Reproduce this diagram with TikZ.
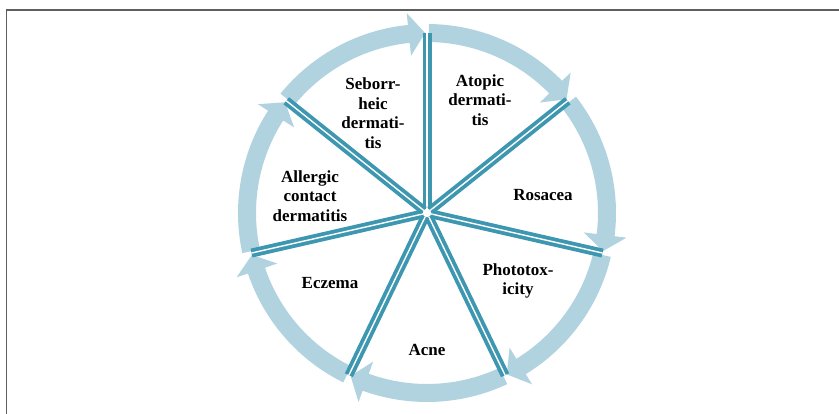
\documentclass[tikz,border=0pt]{standalone}
\usepackage{fontspec}
\setmainfont{Liberation Serif}
\definecolor{ringblue}{RGB}{176,211,223}
\definecolor{spokecol}{RGB}{62,151,176}
\definecolor{framegray}{RGB}{95,95,95}
\begin{document}
\begin{tikzpicture}[x=1pt,y=1pt,
  arrowseg/.style={fill=ringblue, draw=none},
  spokeline/.style={draw=spokecol, line width=3.8pt, double=white, double distance=1.4pt},
  lbl/.style={font=\fontsize{17}{19.5}\selectfont\bfseries, align=center, inner sep=0pt}]
\useasboundingbox (0,0) rectangle (839,414);
\draw[framegray, line width=1.4pt] (6.5,0) -- (6.5,404) -- (839,404);
\coordinate (c) at (427,201);
\begin{scope}[shift={(c)}]
\foreach \k in {0,...,6} {
  \pgfmathsetmacro\A{90-\k*360/7}
  \pgfmathsetmacro\B{\A-360/7}
  \pgfmathsetmacro\H{\B+5.8}
  \fill[arrowseg] (\A-0.6:189) arc[start angle=\A-0.6, end angle=\H, radius=189] -- (\H:201) -- (\B+0.6:180) -- (\H:158) -- (\H:171) arc[start angle=\H, end angle=\A-0.6, radius=171] -- cycle;
}
\foreach \k in {0,...,6} {
  \pgfmathsetmacro\A{90-\k*360/7}
  \coordinate (i\k) at (\A:4);
  \coordinate (o\k) at (\A:180);
  \draw[spokeline] (i\k) -- (o\k);
}
\end{scope}
\node[lbl] (atopic) at (480,314) {Atopic\\dermati-\\tis};
\node[lbl] (seb) at (373,301) {Seborr-\\heic\\dermati-\\tis};
\node[lbl] (allergic) at (310,218) {Allergic\\contact\\dermatitis};
\node[lbl] (rosacea) at (543,219) {Rosacea};
\node[lbl] (photo) at (518,133) {Phototox-\\icity};
\node[lbl] (eczema) at (330,131) {Eczema};
\node[lbl] (acne) at (427,64) {Acne};
\end{tikzpicture}
\end{document}
